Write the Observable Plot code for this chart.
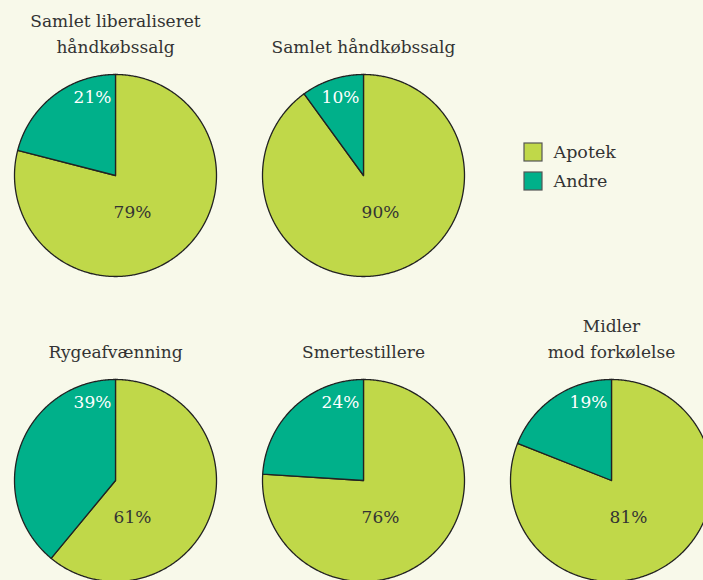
<!DOCTYPE html>
<html>
<head>
<meta charset="utf-8">
<script src="https://cdn.jsdelivr.net/npm/d3@7"></script>
<script src="https://cdn.jsdelivr.net/npm/@observablehq/plot@0.6"></script>
<style>
  html, body { margin: 0; padding: 0; background: #f8f9ea; overflow: hidden; }
  #chart { width: 703px; height: 580px; overflow: hidden; }
</style>
</head>
<body>
<div id="chart"></div>
<script>
// ---- data ----
const titles = ["Samlet liberaliseret\nhåndkøbssalg", "Samlet håndkøbssalg", "Rygeafvænning", "Smertestillere", "Midler\nmod forkølelse"];
const apotek = [79, 90, 61, 76, 81];
const andre = [21, 10, 39, 24, 19];
const categories = ["Apotek", "Andre"];
const colors = ["#c0d849", "#00b08a"];

// ---- layout ----
const W = 703, H = 580, R = 101;
const centers = [[115, 175], [363, 175], [115, 480], [363, 480], [611, 480]];

// build wedge polygons (angles clockwise from 12 o'clock)
const wedges = [];
titles.forEach((t, i) => {
  const [cx, cy] = centers[i];
  const total = apotek[i] + andre[i];
  const vals = [apotek[i], andre[i]];
  let start = 0;
  vals.forEach((v, k) => {
    const a0 = start / total * 2 * Math.PI;
    const a1 = (start + v) / total * 2 * Math.PI;
    start += v;
    const key = i + "-" + k;
    wedges.push({key, cat: categories[k], x: cx, y: cy});
    const n = Math.max(2, Math.ceil((a1 - a0) / 0.01));
    for (let j = 0; j <= n; j++) {
      const a = a0 + (a1 - a0) * j / n;
      wedges.push({key, cat: categories[k], x: cx + R * Math.sin(a), y: cy - R * Math.cos(a)});
    }
    wedges.push({key, cat: categories[k], x: cx, y: cy});
  });
});

const titleData = titles.map((t, i) => ({t, x: centers[i][0], y: centers[i][1] - R - 22}));
const andreLabels = andre.map((v, i) => ({t: v + "%", x: centers[i][0] - 23, y: centers[i][1] - 78}));
const apotekLabels = apotek.map((v, i) => ({t: v + "%", x: centers[i][0] + 17, y: centers[i][1] + 37}));
const legend = categories.map((c, k) => ({c, k, x: 533, y: 152 + k * 29}));

const font = "DejaVu Serif";

const plot = Plot.plot({
  width: W, height: H,
  margin: 0,
  x: {domain: [0, W], range: [0, W], axis: null},
  y: {domain: [0, H], range: [0, H], axis: null},
  style: {background: "#f8f9ea", fontFamily: font, overflow: "hidden"},
  marks: [
    Plot.line(wedges.filter(d => d.cat === "Apotek"), {x: "x", y: "y", z: "key", fill: colors[0], stroke: "#222", strokeWidth: 1.3, strokeLinejoin: "round"}),
    Plot.line(wedges.filter(d => d.cat === "Andre"), {x: "x", y: "y", z: "key", fill: colors[1], stroke: "#222", strokeWidth: 1.3, strokeLinejoin: "round"}),
    Plot.text(titleData, {x: "x", y: "y", text: "t", lineAnchor: "bottom", lineHeight: 1.5, fontSize: 17, fontFamily: font, fill: "#333"}),
    Plot.text(andreLabels, {x: "x", y: "y", text: "t", fontSize: 17, fontFamily: font, fill: "white"}),
    Plot.text(apotekLabels, {x: "x", y: "y", text: "t", fontSize: 17, fontFamily: font, fill: "#333"}),
    Plot.rect(legend, {x1: d => d.x - 9, x2: d => d.x + 9, y1: d => d.y - 9, y2: d => d.y + 9, fill: (d) => colors[d.k], stroke: "#555", strokeWidth: 1.2}),
    Plot.text(legend, {x: d => d.x + 20, y: "y", text: "c", textAnchor: "start", fontSize: 17.5, fontFamily: font, fill: "#333"})
  ]
});
document.getElementById("chart").appendChild(plot);
</script>
</body>
</html>
